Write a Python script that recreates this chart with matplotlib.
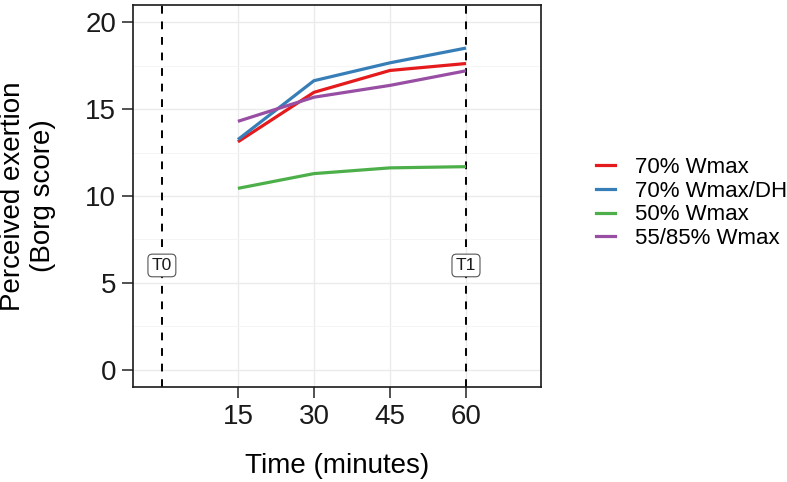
import matplotlib.pyplot as plt
from matplotlib.lines import Line2D

plt.rcParams["font.family"] = ["Liberation Sans", "DejaVu Sans"]

minutes = [15, 30, 45, 60]
series_names = ["70% Wmax", "70% Wmax/DH", "50% Wmax", "55/85% Wmax"]
wmax70 = [13.12, 15.97, 17.23, 17.63]
wmax70_dh = [13.25, 16.64, 17.67, 18.52]
wmax50 = [10.44, 11.29, 11.62, 11.69]
wmax55_85 = [14.30, 15.69, 16.37, 17.21]
colors = ["#E41A1C", "#377EB8", "#4DAF4A", "#984EA3"]

markers_x = [0, 60]
marker_labels = ["T0", "T1"]
marker_label_y = 6.0

fig = plt.figure(figsize=(7.87, 4.82), dpi=100)
ax = fig.add_axes([133 / 787, 1 - 387 / 482, (541 - 133) / 787, (387 - 5) / 482])

ax.set_xlim(-5.7, 74.8)
ax.set_ylim(-1.0, 21.0)
ax.set_xticks(minutes)
ax.set_yticks([0, 5, 10, 15, 20])
ax.set_yticks([2.5, 7.5, 12.5, 17.5], minor=True)
ax.grid(True, which="major", color="#ebebeb", lw=1.0)
ax.grid(True, which="minor", axis="y", color="#f4f4f4", lw=0.6)
ax.set_axisbelow(True)
ax.tick_params(which="minor", length=0)
ax.tick_params(which="major", length=8, width=1.2, color="#333333",
               labelsize=20, labelcolor="#1a1a1a", pad=4)
for s in ax.spines.values():
    s.set_color("#1a1a1a")
    s.set_linewidth(1.2)

for xv, lab in zip(markers_x, marker_labels):
    ax.axvline(xv, color="black", ls=(0, (4, 4)), lw=1.4, zorder=2)
    ax.text(xv, marker_label_y, lab, ha="center", va="center", fontsize=12.5,
            color="#1a1a1a", zorder=4,
            bbox=dict(boxstyle="round,pad=0.22,rounding_size=0.25", fc="white",
                      ec="#555555", lw=0.8))

for vals, c in zip([wmax70, wmax70_dh, wmax50, wmax55_85], colors):
    ax.plot(minutes, vals, color=c, lw=2.3, zorder=3, solid_capstyle="butt")

ax.set_xlabel("Time (minutes)", fontsize=20, labelpad=17)
ax.set_ylabel("Perceived exertion\n(Borg score)", fontsize=20, labelpad=21)

handles = [Line2D([0], [0], color=c, lw=2.3) for c in colors]
fig.legend(handles, series_names, loc="center left",
           bbox_to_anchor=(576 / 787, 1 - 203 / 482),
           frameon=False, fontsize=16, handlelength=0.85, handletextpad=0.9,
           labelspacing=0.12)

fig.savefig("out.png", dpi=100)
